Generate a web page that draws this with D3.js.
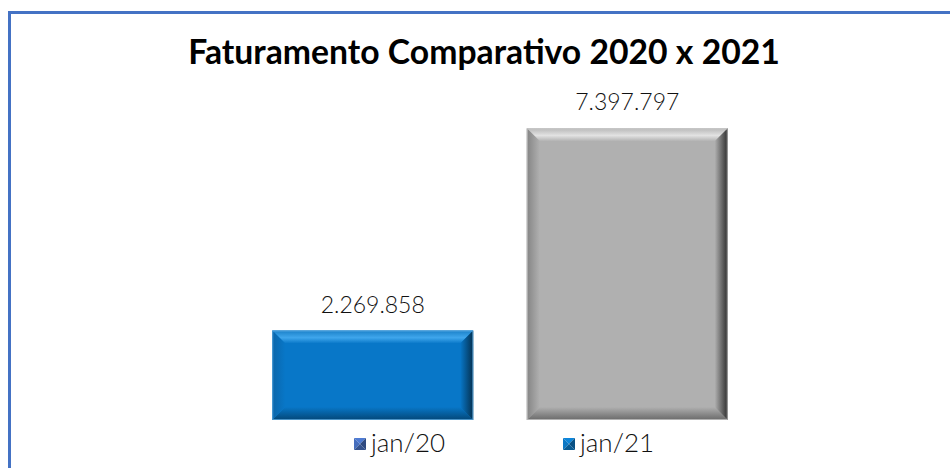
<!DOCTYPE html>
<html>
<head>
<meta charset="utf-8">
<script src="https://cdn.jsdelivr.net/npm/d3@7"></script>
<style>
  html, body { margin: 0; padding: 0; background: #fff; }
  #chart { width: 950px; height: 468px; }
  text { font-family: "Century Gothic", "URW Gothic", Lato, "Open Sans", sans-serif; }
</style>
</head>
<body>
<div id="chart"></div>
<script>
// Chart data
var title = 'Faturamento Comparativo 2020 x 2021';
var categories = ['jan/20', 'jan/21'];
var values = [2269858, 7397797];
var yMax = 8000000;

// Bar looks: face, top bevel, right bevel, bottom bevel, left bevel, outline
var barStyles = [
  { face: '#0877c8', topOut: '#1a80c8', topIn: '#3fa6ec', right: '#04304f', bottom: '#034778', left: '#0b66aa', line: '#6ab4e8' },
  { face: '#b0b0b0', topOut: '#b8b8b8', topIn: '#e2e2e2', right: '#2e2e2e', bottom: '#6a6a6a', left: '#848484', line: '#cfcfcf' }
];
var markerColors = ['#3f63aa', '#0a6bb0'];

var width = 950;
var height = 468;
var bevel = 13;

var svg = d3.select('#chart').append('svg')
  .attr('width', width)
  .attr('height', height);

var defs = svg.append('defs');

// Frame (left and top only)
svg.append('path')
  .attr('d', 'M9.5,468 L9.5,12.5 L950,12.5')
  .attr('fill', 'none')
  .attr('stroke', '#4472c4')
  .attr('stroke-width', 3);

// Title, fitted to the reference width
var titleText = svg.append('text')
  .attr('x', 484)
  .attr('y', 64)
  .attr('text-anchor', 'middle')
  .style('font-weight', 'bold')
  .style('font-size', '31px')
  .attr('fill', '#000')
  .text(title);
var tw = titleText.node().getComputedTextLength();
titleText.style('font-size', (31 * 592 / tw).toFixed(2) + 'px');

// Scales
var x = d3.scaleBand()
  .domain(categories)
  .range([145, 855])
  .paddingInner(0.2105)
  .paddingOuter(0.5);

var y = d3.scaleLinear()
  .domain([0, yMax])
  .range([420, 104.6]);

var fmt = d3.formatLocale({ decimal: ',', thousands: '.', grouping: [3], currency: ['R$', ''] }).format(',d');

// Gradients per bar
function gradient(id, x1, y1, x2, y2, stops) {
  var g = defs.append('linearGradient')
    .attr('id', id)
    .attr('x1', x1).attr('y1', y1)
    .attr('x2', x2).attr('y2', y2);
  stops.forEach(function (s) {
    g.append('stop').attr('offset', s[0]).attr('stop-color', s[1]);
  });
}

barStyles.forEach(function (s, i) {
  gradient('top' + i, 0, 0, 0, 1, [[0, s.topOut], [0.55, s.topIn], [1, s.face]]);
  gradient('right' + i, 0, 0, 1, 0, [[0, s.face], [1, s.right]]);
  gradient('bottom' + i, 0, 0, 0, 1, [[0, s.face], [1, s.bottom]]);
  gradient('left' + i, 0, 0, 1, 0, [[0, s.left], [1, s.face]]);
});

var data = categories.map(function (c, i) {
  return { category: c, value: values[i], index: i };
});

var bars = svg.selectAll('.bar')
  .data(data)
  .enter().append('g')
  .attr('class', 'bar');

bars.each(function (d) {
  var g = d3.select(this);
  var s = barStyles[d.index];
  var x0 = x(d.category);
  var x1 = x0 + x.bandwidth();
  var y0 = y(d.value);
  var y1 = y(0);
  var b = Math.min(bevel, (y1 - y0) / 2);

  g.append('rect')
    .attr('x', x0).attr('y', y0)
    .attr('width', x1 - x0).attr('height', y1 - y0)
    .attr('fill', s.face);

  var sides = [
    ['top', [[x0, y0], [x1, y0], [x1 - b, y0 + b], [x0 + b, y0 + b]]],
    ['bottom', [[x0 + b, y1 - b], [x1 - b, y1 - b], [x1, y1], [x0, y1]]],
    ['left', [[x0, y0], [x0 + b, y0 + b], [x0 + b, y1 - b], [x0, y1]]],
    ['right', [[x1 - b, y0 + b], [x1, y0], [x1, y1], [x1 - b, y1 - b]]]
  ];
  sides.forEach(function (side) {
    g.append('polygon')
      .attr('points', side[1].map(function (p) { return p.join(','); }).join(' '))
      .attr('fill', 'url(#' + side[0] + d.index + ')');
  });

  g.append('rect')
    .attr('x', x0 + 0.5).attr('y', y0 + 0.5)
    .attr('width', x1 - x0 - 1).attr('height', y1 - y0 - 1)
    .attr('fill', 'none')
    .attr('stroke', s.line)
    .attr('stroke-width', 1)
    .attr('stroke-opacity', 0.7);
});

// Value labels
svg.selectAll('.value')
  .data(data)
  .enter().append('text')
  .attr('class', 'value')
  .attr('x', function (d) { return x(d.category) + x.bandwidth() / 2; })
  .attr('y', function (d) { return y(d.value) - 18; })
  .attr('text-anchor', 'middle')
  .style('font-size', '23px')
  .style('font-weight', 300)
  .attr('fill', '#111')
  .text(function (d) { return fmt(d.value); });

// Legend
var legend = svg.selectAll('.legend')
  .data(categories)
  .enter().append('g')
  .attr('class', 'legend')
  .attr('transform', function (d, i) { return 'translate(' + (354 + i * 209) + ',438)'; });

legend.each(function (d, i) {
  var g = d3.select(this);
  var c = d3.color(markerColors[i]);
  var m = 12;
  var h = m / 2;
  var tris = [
    [[0, 0], [m, 0], [h, h], c.brighter(0.6)],
    [[0, 0], [h, h], [0, m], c.brighter(0.3)],
    [[m, 0], [m, m], [h, h], c.darker(0.8)],
    [[0, m], [h, h], [m, m], c.darker(0.5)]
  ];
  tris.forEach(function (t) {
    g.append('polygon')
      .attr('points', t.slice(0, 3).map(function (p) { return p.join(','); }).join(' '))
      .attr('fill', t[3]);
  });
  g.append('text')
    .attr('x', 17)
    .attr('y', 14)
    .style('font-size', '26px')
    .style('font-weight', 300)
    .attr('fill', '#111')
    .text(d);
});
</script>
</body>
</html>
